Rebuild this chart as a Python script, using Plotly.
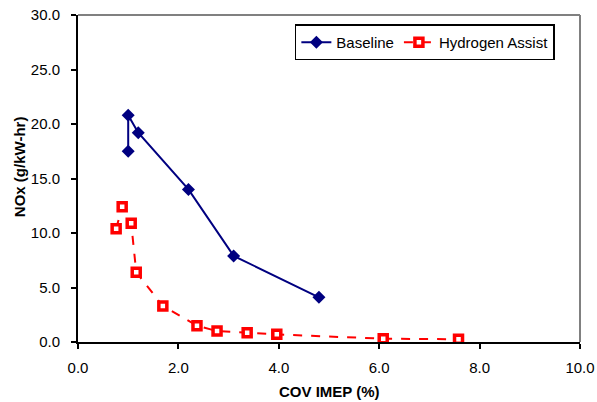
import plotly.graph_objects as go

baseline_x = [1.0, 1.0, 1.2, 2.2, 3.1, 4.8]
baseline_y = [17.5, 20.8, 19.2, 14.0, 7.9, 4.1]

hydrogen_x = [0.76, 0.88, 1.06, 1.16, 1.69, 2.37, 2.77, 3.37, 3.96, 6.08, 7.58]
hydrogen_y = [10.4, 12.4, 10.9, 6.4, 3.3, 1.5, 1.0, 0.85, 0.7, 0.3, 0.25]

x_ticks = [0, 2, 4, 6, 8, 10]
y_ticks = [0, 5, 10, 15, 20, 25, 30]

font = "Liberation Sans, Arial, sans-serif"
fs = 15

fig = go.Figure()
fig.add_trace(go.Scatter(
    x=baseline_x, y=baseline_y, mode="lines+markers", name="Baseline",
    line=dict(color="#000080", width=2),
    marker=dict(symbol="diamond", size=10, color="#000080"),
))
fig.add_trace(go.Scatter(
    x=hydrogen_x, y=hydrogen_y, mode="lines+markers", name="Hydrogen Assist",
    line=dict(color="#FF0000", width=2, dash="dash"),
    marker=dict(symbol="square", size=8, color="white",
                line=dict(color="#FF0000", width=3.5)),
))

fig.update_layout(
    width=597, height=402,
    margin=dict(l=78, r=17, t=15, b=60, autoexpand=False),
    paper_bgcolor="white", plot_bgcolor="white",
    font=dict(family=font, size=fs, color="black"),
    showlegend=True,
    legend=dict(
        orientation="h", x=0.432, y=0.971, xanchor="left", yanchor="top",
        bordercolor="black", borderwidth=1.5, bgcolor="white",
        font=dict(family=font, size=fs, color="black"),
        itemwidth=30, tracegroupgap=0,
    ),
    xaxis=dict(
        range=[0, 10], tickvals=x_ticks,
        ticktext=[f"{v:.1f}" for v in x_ticks],
        ticks="outside", ticklen=5, tickwidth=1.5, tickcolor="black",
        showline=True, linecolor="black", linewidth=2, mirror=False,
        showgrid=False, zeroline=False, automargin=False,
        ticklabelstandoff=6,
        tickfont=dict(family=font, size=fs),
    ),
    yaxis=dict(
        range=[0, 30], tickvals=y_ticks,
        ticktext=[f"{v:.1f}" for v in y_ticks],
        ticks="outside", ticklen=5, tickwidth=1.5, tickcolor="black",
        showline=True, linecolor="black", linewidth=2, mirror=False,
        showgrid=False, zeroline=False, automargin=False,
        ticklabelstandoff=8,
        tickfont=dict(family=font, size=fs),
    ),
    annotations=[
        dict(text="<b>COV IMEP (%)</b>", xref="paper", yref="paper",
             x=0.5, y=-(391 - 341.7) / 326.7, xanchor="center", yanchor="middle",
             showarrow=False, font=dict(family=font, size=fs)),
        dict(text="<b>NOx (g/kW-hr)</b>", xref="paper", yref="paper",
             x=-(78 - 19) / 502, y=(341.7 - 167) / 326.7, xanchor="center", yanchor="middle",
             textangle=-90, showarrow=False, font=dict(family=font, size=fs)),
    ],
    shapes=[
        dict(type="line", xref="paper", yref="paper", x0=0, x1=1, y0=1, y1=1,
             line=dict(color="#808080", width=2)),
        dict(type="line", xref="paper", yref="paper", x0=1, x1=1, y0=0, y1=1,
             line=dict(color="#808080", width=2)),
    ],
)

fig.write_html("out.html")
